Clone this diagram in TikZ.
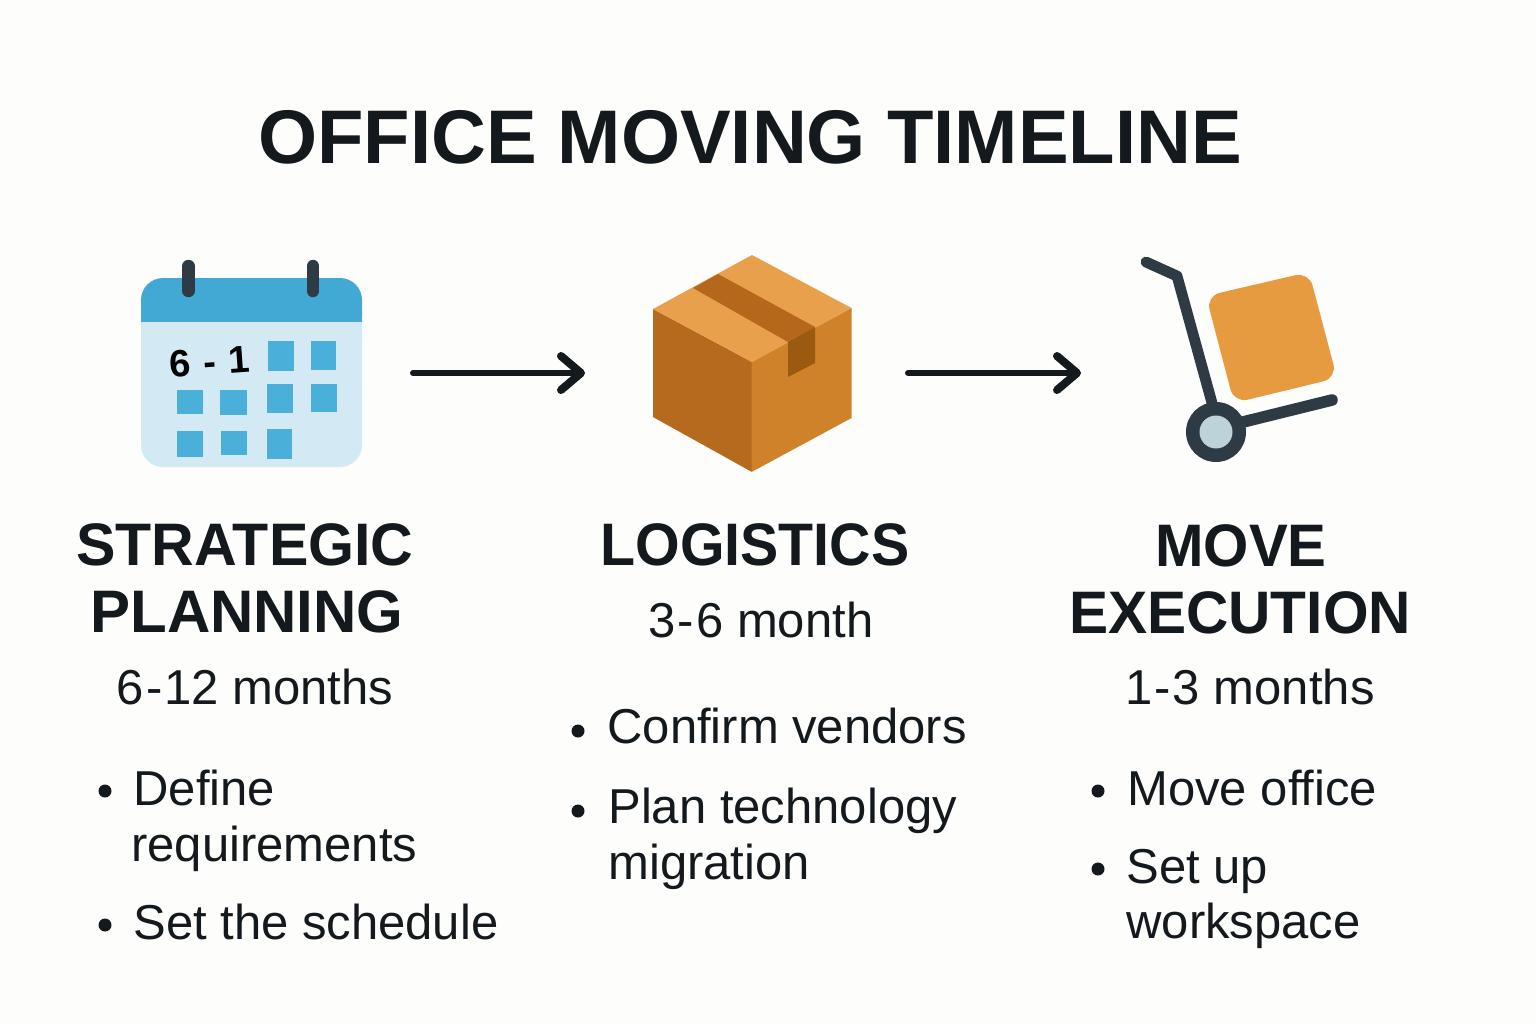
\documentclass[tikz,border=0pt]{standalone}
\usepackage{fontspec}
\setmainfont{Liberation Sans}
\usetikzlibrary{arrows.meta}
\definecolor{ink}{HTML}{14191D}
\definecolor{bg}{HTML}{FDFDFB}
\definecolor{calblue}{HTML}{42A9D4}
\definecolor{calpale}{HTML}{D3E9F4}
\definecolor{calsq}{HTML}{4AB0DA}
\definecolor{dark}{HTML}{2E3B44}
\definecolor{boxtop}{HTML}{E8A04C}
\definecolor{boxleft}{HTML}{B66A1E}
\definecolor{boxright}{HTML}{CF8229}
\definecolor{tapetop}{HTML}{B5671B}
\definecolor{tapeside}{HTML}{9A5A10}
\definecolor{crate}{HTML}{E69B41}
\definecolor{hub}{HTML}{BDD2D9}
\newcommand{\dashkern}{\kern1pt-\kern1pt}
\tikzset{
  titletext/.style={anchor=base,inner sep=0pt,text=ink,font=\bfseries\fontsize{38}{38}\selectfont},
  headtext/.style={anchor=base,inner sep=0pt,text=ink,font=\bfseries\fontsize{30}{30}\selectfont},
  spantext/.style={anchor=base,inner sep=0pt,text=ink,font=\fontsize{24.5}{24.5}\selectfont},
  itemtext/.style={anchor=base west,inner sep=0pt,text=ink,font=\fontsize{24.5}{24.5}\selectfont},
  bulletdot/.style={fill=ink,draw=none,circle,minimum size=6.5pt,inner sep=0pt},
  flowarrow/.style={draw=ink,line width=3pt,line cap=round,-{Straight Barb[length=10pt,width=17pt,line width=4pt,round]}},
  cell/.style={fill=calsq},
  ring/.style={draw=dark,line width=6.2pt,line cap=round},
  bar/.style={draw=dark,line width=5.4pt,line cap=round,line join=round},
  basebar/.style={draw=dark,line width=5.8pt,line cap=round}
}
\begin{document}
\begin{tikzpicture}[x=0.5pt,y=-0.5pt]
\fill[bg] (0,0) rectangle (1536,1024);
\useasboundingbox (0,0) rectangle (1536,1024);
\node[titletext] (title) at (750,163) {OFFICE MOVING TIMELINE};
% calendar
\fill[calpale,rounded corners=11pt] (141,290) rectangle (362,467);
\fill[calpale] (141,320) rectangle (362,400);
\fill[calblue,rounded corners=11pt] (141,278) rectangle (362,340);
\fill[calblue] (141,305) rectangle (362,322);
\fill[calpale] (141,322) rectangle (362,345);
\draw[ring] (188.5,266) -- (188.5,291);
\draw[ring] (313,266) -- (313,291);
\fill[cell] (268,341) rectangle (294,371);
\fill[cell] (311,341) rectangle (336,370);
\fill[cell] (177,390) rectangle (203,414);
\fill[cell] (220,390) rectangle (247,415);
\fill[cell] (267,384) rectangle (293,413);
\fill[cell] (311,384) rectangle (337,412);
\fill[cell] (177,431) rectangle (203,457);
\fill[cell] (221,431) rectangle (247,455);
\fill[cell] (267,429) rectangle (292,459);
\node[inner sep=0pt,rotate=4,text=black,font=\bfseries\fontsize{19}{19}\selectfont] (caldate) at (210,362) {6\kern1pt{} - \kern1pt1};
% box
\fill[boxleft] (653,309) -- (752,362) -- (752,472) -- (653,417) -- cycle;
\fill[boxright] (751.5,362) -- (851.5,308) -- (851.5,418) -- (751.5,472) -- cycle;
\fill[boxtop] (752,255) -- (851.5,308) -- (752,362) -- (653,309) -- cycle;
\fill[tapetop] (693,288) -- (718,274) -- (815,327) -- (788,342) -- cycle;
\fill[tapeside] (788,342) -- (815,327) -- (815,363) -- (788,377) -- cycle;
% trolley
\fill[crate,rounded corners=7pt] (1206,296) -- (1309,272) -- (1337,378) -- (1234,403) -- cycle;
\draw[bar] (1146,262) -- (1177,276) -- (1212,403);
\draw[basebar] (1243,422) -- (1332,400);
\fill[dark] (1216,432) circle[radius=30];
\fill[hub] (1216,432) circle[radius=16.5];
% arrows
\coordinate (calendarright) at (413,373);
\coordinate (boxleftin) at (585,373);
\coordinate (boxrightout) at (908,373);
\coordinate (trolleyin) at (1081,373);
\draw[flowarrow] (calendarright) -- (boxleftin);
\draw[flowarrow] (boxrightout) -- (trolleyin);
% column 1
\node[headtext] (h1a) at (245,565) {\scalebox{.985}[1]{STRATEGIC}};
\node[headtext] (h1b) at (247,632) {PLANNING};
\node[spantext] (s1) at (255,704) {6\dashkern 12 months};
\node[bulletdot] (b1a) at (105,791) {};
\node[itemtext] (i1a) at (133,805) {Define};
\node[itemtext] (i1b) at (131,861) {requirements};
\node[bulletdot] (b1b) at (105,925) {};
\node[itemtext] (i1c) at (133,939) {Set the schedule};
% column 2
\node[headtext] (h2) at (755,565) {\scalebox{.955}[1]{LOGISTICS}};
\node[spantext] (s2) at (761,637) {3\dashkern 6 month};
\node[bulletdot] (b2a) at (578,731) {};
\node[itemtext] (i2a) at (607,743) {Confirm vendors};
\node[bulletdot] (b2b) at (578,811) {};
\node[itemtext] (i2b) at (608,823) {Plan technology};
\node[itemtext] (i2c) at (608,879) {migration};
% column 3
\node[headtext] (h3a) at (1241,566) {\scalebox{.97}[1]{MOVE}};
\node[headtext] (h3b) at (1240,633) {\scalebox{.977}[1]{EXECUTION}};
\node[spantext] (s3) at (1250,704) {1\dashkern 3 months};
\node[bulletdot] (b3a) at (1098,791) {};
\node[itemtext] (i3a) at (1127,805) {Move office};
\node[bulletdot] (b3b) at (1098,869) {};
\node[itemtext] (i3b) at (1126,883) {Set up};
\node[itemtext] (i3c) at (1126,938) {workspace};
\end{tikzpicture}
\end{document}
